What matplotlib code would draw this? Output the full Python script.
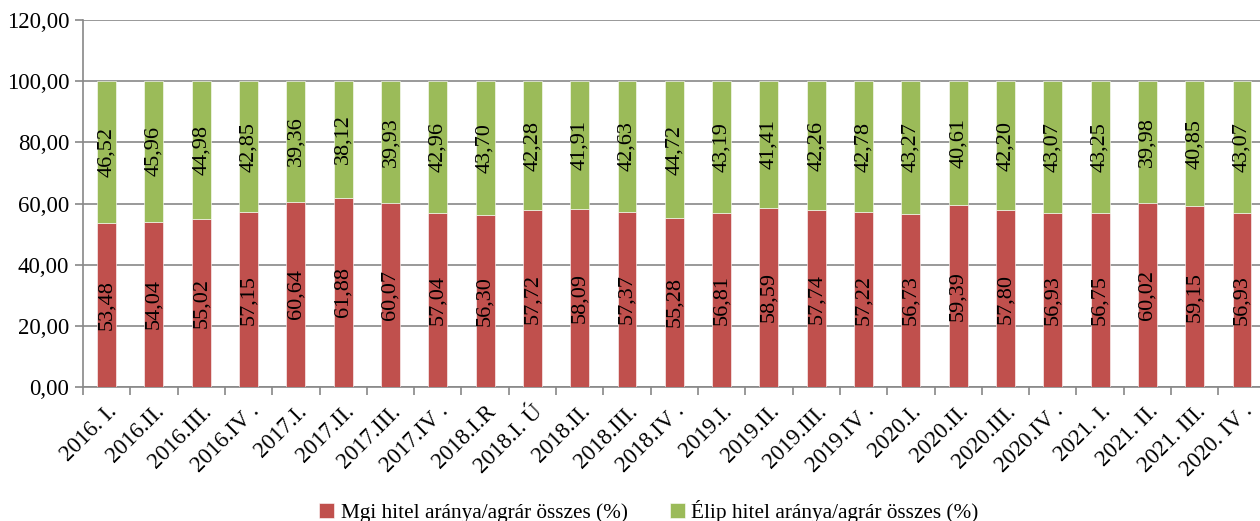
import matplotlib.pyplot as plt
import numpy as np

plt.rcParams['font.family'] = ['Liberation Serif', 'DejaVu Serif']

labels = ["2016. I.", "2016.II.", "2016.III.", "2016.IV .", "2017.I.", "2017.II.", "2017.III.",
          "2017.IV .", "2018.I.R", "2018.I. Ú", "2018.II.", "2018.III.", "2018.IV .", "2019.I.",
          "2019.II.", "2019.III.", "2019.IV .", "2020.I.", "2020.II.", "2020.III.", "2020.IV .",
          "2021. I.", "2021. II.", "2021. III.", "2020. IV ."]
mgi = [53.48, 54.04, 55.02, 57.15, 60.64, 61.88, 60.07, 57.04, 56.30, 57.72, 58.09, 57.37, 55.28,
       56.81, 58.59, 57.74, 57.22, 56.73, 59.39, 57.80, 56.93, 56.75, 60.02, 59.15, 56.93]
elip = [46.52, 45.96, 44.98, 42.85, 39.36, 38.12, 39.93, 42.96, 43.70, 42.28, 41.91, 42.63, 44.72,
        43.19, 41.41, 42.26, 42.78, 43.27, 40.61, 42.20, 43.07, 43.25, 39.98, 40.85, 43.07]

red = '#C0504D'
green = '#9BBB59'

fig = plt.figure(figsize=(12.6, 5.21), dpi=100)
ax = fig.add_axes([83/1260, 1-387/521, 1-83/1260, (387-20)/521])

x = np.arange(len(labels))
b1 = ax.bar(x, mgi, 0.4, color=red, edgecolor='white', linewidth=0.4,
            label='Mgi hitel aránya/agrár összes (%)', zorder=3)
b2 = ax.bar(x, elip, 0.4, bottom=mgi, color=green, edgecolor='white', linewidth=0.4,
            label='Élip hitel aránya/agrár összes (%)', zorder=3)

for i in range(len(x)):
    ax.text(x[i], mgi[i] / 2, f"{mgi[i]:.2f}".replace('.', ','), rotation=90,
            ha='center', va='center', fontsize=16, zorder=4)
    ax.text(x[i], mgi[i] + elip[i] / 2, f"{elip[i]:.2f}".replace('.', ','), rotation=90,
            ha='center', va='center', fontsize=16, zorder=4)

ax.set_ylim(0, 120)
ax.set_yticks(np.arange(0, 121, 20))
ax.set_yticklabels([f"{v:.2f}".replace('.', ',') for v in np.arange(0, 121, 20)], fontsize=16.5)
ax.set_xlim(-0.5, 24.38)

ax.set_xticks(x)
ax.set_xticklabels(labels, rotation=45, ha='right', rotation_mode='anchor', fontsize=16.5)
ax.tick_params(axis='x', length=0, pad=10)
ax.set_xticks(np.arange(-0.5, 24.5, 1), minor=True)
ax.tick_params(axis='x', which='minor', length=6, color='#888888', width=1.2)
ax.tick_params(axis='y', length=6, color='#888888', width=1.2, pad=4)

ax.grid(axis='y', color='#888888', linewidth=1.2, zorder=0)
for s in ['top', 'right']:
    ax.spines[s].set_visible(False)
for s in ['left', 'bottom']:
    ax.spines[s].set_color('#888888')
    ax.spines[s].set_linewidth(1.2)

fig.legend(handles=[b1, b2], loc='center', bbox_to_anchor=(0.515, 0.018), ncol=2,
           frameon=False, fontsize=15.3, handlelength=0.7, handleheight=0.7,
           handletextpad=0.3, columnspacing=2.0)

fig.savefig('out.png', dpi=100)
